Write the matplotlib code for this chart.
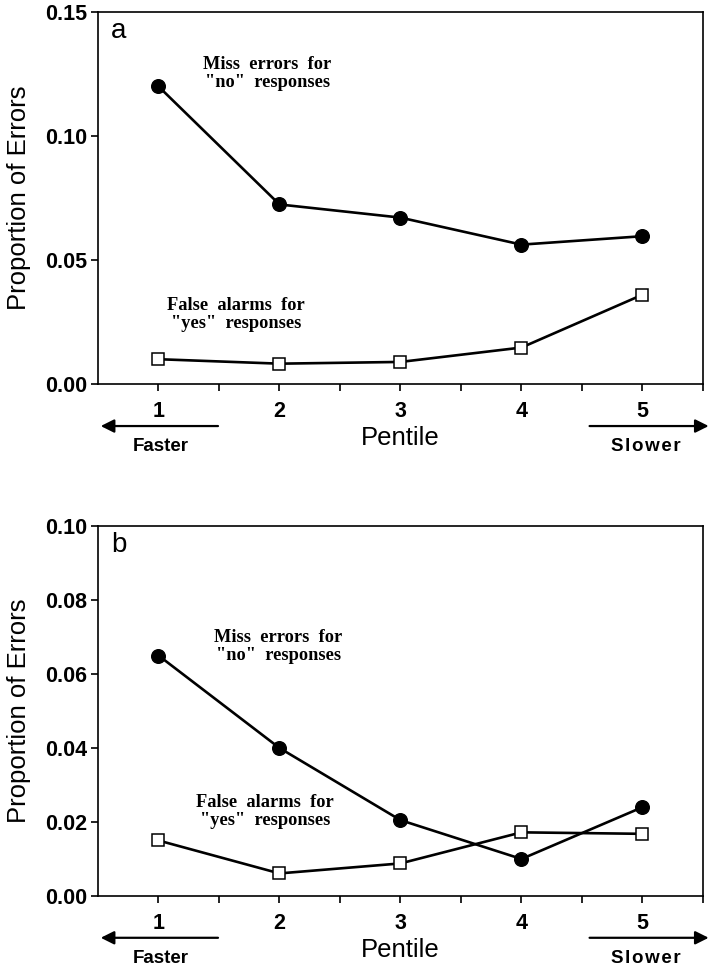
import matplotlib
matplotlib.use("Agg")
import matplotlib.pyplot as plt
from matplotlib.ticker import FixedLocator

plt.rcParams['font.family'] = ['Liberation Sans', 'DejaVu Sans']

pentiles = [1, 2, 3, 4, 5]

# panel a
miss_a = [0.120, 0.0724, 0.0671, 0.0562, 0.0596]
fa_a = [0.0100, 0.0082, 0.0089, 0.0147, 0.0360]
yticks_a = [0.00, 0.05, 0.10, 0.15]

# panel b
miss_b = [0.065, 0.040, 0.0205, 0.010, 0.024]
fa_b = [0.015, 0.0061, 0.0088, 0.0172, 0.0168]
yticks_b = [0.00, 0.02, 0.04, 0.06, 0.08, 0.10]

miss_text = 'Miss  errors  for\n"no"  responses'
fa_text = 'False  alarms  for\n"yes"  responses'
hair = '\u200a'

fig = plt.figure(figsize=(7.12, 9.68), dpi=100)
ax_a = fig.add_axes([0.1376, 0.6033, 0.8497, 0.3843])
ax_b = fig.add_axes([0.1376, 0.0744, 0.8497, 0.3822])


def draw_panel(ax, letter, miss, fa, yticks, miss_pos, fa_pos):
    ax.plot(pentiles, miss, color='black', lw=1.9, marker='o', ms=9.8,
            mfc='black', mec='black', zorder=3)
    ax.plot(pentiles, fa, color='black', lw=1.9, marker='s', ms=8.8,
            mfc='white', mec='black', mew=1.1, zorder=3)

    ax.set_xlim(0.5, 5.5)
    ax.set_ylim(yticks[0], yticks[-1])
    ax.set_xticks(pentiles)
    ax.xaxis.set_minor_locator(FixedLocator([1.5, 2.5, 3.5, 4.5, 5.5]))
    ax.set_yticks(yticks)
    ax.set_yticklabels(['%.2f' % v for v in yticks])
    ax.tick_params(axis='both', which='both', direction='out', width=1.2,
                   labelsize=15.5)
    ax.tick_params(axis='both', which='major', length=5)
    ax.tick_params(axis='x', which='minor', length=5)
    ax.tick_params(axis='x', pad=7)
    ax.tick_params(axis='y', pad=3)
    for lab in ax.get_xticklabels() + ax.get_yticklabels():
        lab.set_fontweight('bold')
    for sp in ax.spines.values():
        sp.set_linewidth(1.2)

    ax.set_ylabel('Proportion of Errors', fontsize=18.5)
    ax.yaxis.set_label_coords(-0.11, 0.5)
    ax.text(0.022, 0.985, letter, transform=ax.transAxes, fontsize=20,
            ha='left', va='top')

    ax.text(miss_pos[0], miss_pos[1], miss_text, family='Liberation Serif',
            fontweight='bold', fontsize=13.2, ha='center', va='center',
            linespacing=1.05)
    ax.text(fa_pos[0], fa_pos[1], fa_text, family='Liberation Serif',
            fontweight='bold', fontsize=13.2, ha='center', va='center',
            linespacing=1.05)

    trans = ax.get_xaxis_transform()
    ax.text(3, -0.145, 'Pentile', transform=trans, fontsize=18.5,
            ha='center', va='center')
    ax.annotate('', xy=(0.5, -0.113), xytext=(1.515, -0.113),
                xycoords=trans, textcoords=trans, annotation_clip=False,
                arrowprops=dict(arrowstyle='-|>', color='black', lw=1.6,
                                mutation_scale=20))
    ax.annotate('', xy=(5.57, -0.113), xytext=(4.54, -0.113),
                xycoords=trans, textcoords=trans, annotation_clip=False,
                arrowprops=dict(arrowstyle='-|>', color='black', lw=1.6,
                                mutation_scale=20))
    ax.text(1.02, -0.168, 'Faster', transform=trans, fontsize=13.5,
            fontweight='bold', ha='center', va='center')
    ax.text(5.03, -0.168, hair.join('Slower'), transform=trans,
            fontsize=13.5, fontweight='bold', ha='center', va='center')


draw_panel(ax_a, 'a', miss_a, fa_a, yticks_a, (1.9, 0.1253), (1.64, 0.0279))
draw_panel(ax_b, 'b', miss_b, fa_b, yticks_b, (1.99, 0.0675), (1.88, 0.0228))

fig.savefig('out.png', dpi=100)
